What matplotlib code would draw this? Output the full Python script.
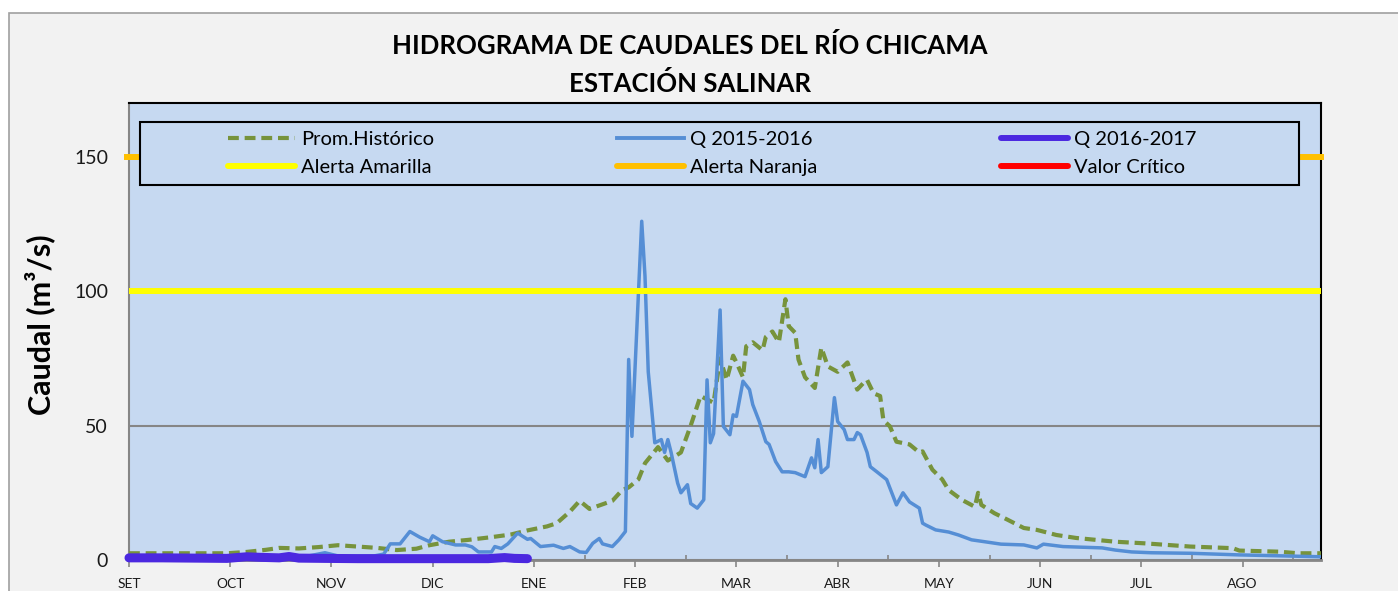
import matplotlib
matplotlib.use('Agg')
import matplotlib.pyplot as plt
from matplotlib.patches import Rectangle
from matplotlib.lines import Line2D
import numpy as np

plt.rcParams['font.family'] = ['Lato', 'DejaVu Sans']

# ---------------- data ----------------
months = ['SET', 'OCT', 'NOV', 'DIC', 'ENE', 'FEB', 'MAR', 'ABR', 'MAY', 'JUN', 'JUL', 'AGO']

hist_day = [0, 30, 36, 42, 46, 52, 58, 64, 70, 76, 82, 88, 92, 98, 104, 111, 117, 122, 128, 131,
            135, 138, 141, 148, 151, 153, 156, 158, 162, 165, 169, 172, 175, 179, 181, 183, 185,
            186, 188, 189, 191, 194, 195, 197, 199, 201, 202, 204, 205, 207, 210, 212, 214, 217,
            220, 223, 225, 226, 228, 230, 231, 233, 235, 239, 242, 243, 246, 249, 251, 255, 259,
            260, 261, 265, 269, 274, 278, 284, 290, 296, 302, 311, 325, 338, 340, 352, 358, 365]
hist_q = [2.5, 2.5, 3.0, 3.8, 4.5, 4.3, 4.8, 5.5, 5.0, 4.5, 3.7, 4.2, 5.5, 6.8, 7.5, 8.5, 9.5, 11.0, 12.5, 13.7,
          18.0, 22.0, 19.0, 22.0, 26.0, 27.0, 30.0, 36.0, 42.0, 37.0, 40.0, 50.0, 61.0, 58.5, 75.0, 67.0, 76.0,
          73.5, 68.0, 79.5, 81.0, 78.0, 83.0, 85.0, 81.0, 97.0, 87.0, 84.5, 74.6, 68.0, 64.0, 79.0, 72.0, 70.0,
          73.5, 63.4, 66.0, 67.0, 62.0, 61.0, 52.0, 49.7, 44.0, 43.0, 40.0, 40.4, 33.6, 30.0, 26.0, 22.4, 19.8,
          25.0, 20.5, 17.4, 15.0, 11.9, 11.2, 9.3, 8.2, 7.5, 6.8, 6.2, 5.0, 4.4, 3.5, 3.1, 2.5, 2.5]

q1516_day = [0, 20, 40, 55, 60, 64, 75, 78, 80, 83, 86, 89, 92, 93, 96, 100, 103, 105, 107, 111,
             112, 114, 116, 119, 122, 123, 126, 130, 133, 135, 138, 140, 142, 144, 145, 148, 150, 152,
             153, 154, 157, 158, 159, 161, 163, 164, 165, 166, 168, 169, 171, 172, 174, 176, 177, 178,
             179, 181, 182, 184, 185, 186, 188, 190, 191, 193, 195, 196, 198, 200, 202, 204, 207, 209,
             210, 211, 212, 214, 216, 217, 219, 220, 222, 223, 224, 226, 227, 229, 232, 235, 237, 239,
             242, 243, 244, 247, 251, 254, 258, 262, 267, 274, 278, 280, 286, 298, 302, 307, 313, 325,
             340, 365]
q1516_q = [1.0, 1.0, 1.2, 1.5, 2.7, 1.5, 1.5, 2.2, 6.0, 6.0, 10.6, 8.5, 6.8, 9.0, 6.8, 5.6, 5.6, 4.9, 3.0, 3.0,
           5.0, 4.3, 6.0, 10.0, 7.7, 8.0, 5.0, 5.5, 4.3, 5.0, 3.0, 2.8, 6.2, 8.0, 6.0, 5.0, 7.5, 10.6,
           74.6, 46.0, 126.0, 105.6, 70.0, 43.6, 44.8, 40.0, 44.8, 40.0, 28.6, 25.0, 28.0, 21.0, 19.3, 22.4, 67.0, 43.6,
           47.0, 93.0, 49.7, 46.6, 54.0, 53.4, 66.5, 63.4, 57.8, 51.5, 44.0, 43.0, 36.6, 32.8, 32.8, 32.5, 31.0, 38.0,
           34.3, 44.8, 32.5, 34.7, 60.4, 51.5, 48.5, 44.8, 44.8, 47.4, 46.6, 40.0, 34.7, 32.8, 29.9, 20.5, 25.0, 21.6,
           19.3, 13.7, 13.0, 11.2, 10.4, 9.3, 7.5, 6.8, 5.9, 5.6, 4.5, 5.9, 5.0, 4.5, 3.7, 3.0, 2.7, 2.5,
           1.9, 1.2]

q1617_day = [0, 10, 20, 30, 36, 40, 46, 49, 52, 60, 70, 80, 90, 100, 110, 115, 118, 122]
q1617_q = [0.8, 0.8, 0.7, 0.6, 1.2, 1.0, 0.8, 1.3, 0.7, 0.6, 0.5, 0.5, 0.5, 0.5, 0.5, 0.9, 0.6, 0.5]

alerta_amarilla = 100
alerta_naranja = 150
valor_critico = 200

# ---------------- figure ----------------
W, H = 1398, 591
fig = plt.figure(figsize=(W / 100, H / 100), dpi=100)
fig.patch.set_facecolor('white')
bg = Rectangle((9 / W, -0.2), 1.2, (H - 13) / H + 0.2, transform=fig.transFigure,
               facecolor='#F2F2F2', edgecolor='#A0A0A0', lw=1.2, zorder=-10)
fig.patches.append(bg)

ax = fig.add_axes([129 / W, 31 / H, 1192 / W, 457 / H])
ax.set_zorder(2)
ax.set_facecolor('#C6D9F1')
ax.set_xlim(0, 365)
ax.set_ylim(0, 170)

ax.set_yticks([0, 50, 100, 150])
ax.yaxis.grid(True, color='#868686', lw=1.5, zorder=1)
ax.set_axisbelow(True)

green = '#77933C'
blue = '#558ED5'
purple = '#4B28E0'

ax.plot(hist_day, hist_q, color=green, lw=3.0, dashes=(2.6, 1.4), zorder=3)
ax.plot(q1516_day, q1516_q, color=blue, lw=2.5, zorder=3)
ax.plot(q1617_day, q1617_q, color=purple, lw=6.5, solid_capstyle='round', zorder=3, clip_on=False)
ax.axhline(alerta_amarilla, color='#FFFF00', lw=4.3, zorder=3)
ax.axhline(alerta_naranja, color='#FFC000', lw=4.3, zorder=3, xmin=-0.002, clip_on=False)
ax.axhline(valor_critico, color='#FF0000', lw=4.3, zorder=3)

# spines
for s in ['left', 'bottom']:
    ax.spines[s].set_color('#868686')
ax.spines['left'].set_linewidth(1.5)
ax.spines['bottom'].set_linewidth(2.0)
for s in ['top', 'right']:
    ax.spines[s].set_color('black')
    ax.spines[s].set_linewidth(1.5)

# ticks
major = np.arange(len(months)) * 31
ax.set_xticks(major)
ax.set_xticklabels(months)
ax.set_xticks(major + 15.5, minor=True)
ax.tick_params(axis='x', which='major', direction='out', length=5, width=1.2, color='#868686',
               labelsize=10, pad=8, labelcolor='#1a1a1a')
ax.tick_params(axis='x', which='minor', direction='in', length=3.5, width=1.2, color='#868686')
ax.tick_params(axis='y', length=0, pad=15, labelsize=14, labelcolor='#1a1a1a')

# legend
ax.add_patch(Rectangle((11 / 1192, (560 - 185) / 457), (1299 - 140) / 1192, 63 / 457,
                       transform=ax.transAxes, facecolor='#C6D9F1', edgecolor='black',
                       lw=1.5, zorder=5))
handles = [
    Line2D([], [], color=green, lw=3.0, dashes=(2.6, 1.4)),
    Line2D([], [], color='#FFFF00', lw=4.3, solid_capstyle='round'),
    Line2D([], [], color=blue, lw=2.8),
    Line2D([], [], color='#FFC000', lw=4.3, solid_capstyle='round'),
    Line2D([], [], color=purple, lw=4.3, solid_capstyle='round'),
    Line2D([], [], color='#FF0000', lw=4.3, solid_capstyle='round'),
]
labels = ['Prom.Histórico', 'Alerta Amarilla', 'Q 2015-2016', 'Alerta Naranja',
          'Q 2016-2017', 'Valor Crítico']
leg = ax.legend(handles, labels, ncol=3, frameon=False, fontsize=14.5, handlelength=3.33,
                handletextpad=0.3, columnspacing=9.1, labelspacing=0.55, loc='center left',
                bbox_to_anchor=((228 - 129) / 1192, (560 - 153.5) / 457), borderaxespad=0,
                borderpad=0)
leg.set_zorder(6)

# titles
fig.text(690 / W, 1 - 45 / H, 'HIDROGRAMA DE CAUDALES DEL RÍO CHICAMA', ha='center', va='center',
         fontsize=18.5, fontweight='bold')
fig.text(690 / W, 1 - 84 / H, 'ESTACIÓN SALINAR', ha='center', va='center',
         fontsize=18.5, fontweight='bold')
fig.text(40 / W, 1 - 325 / H, 'Caudal (m³/s)', rotation=90, ha='center', va='center',
         fontsize=22, fontweight='bold')

fig.savefig('out.png', dpi=100)
